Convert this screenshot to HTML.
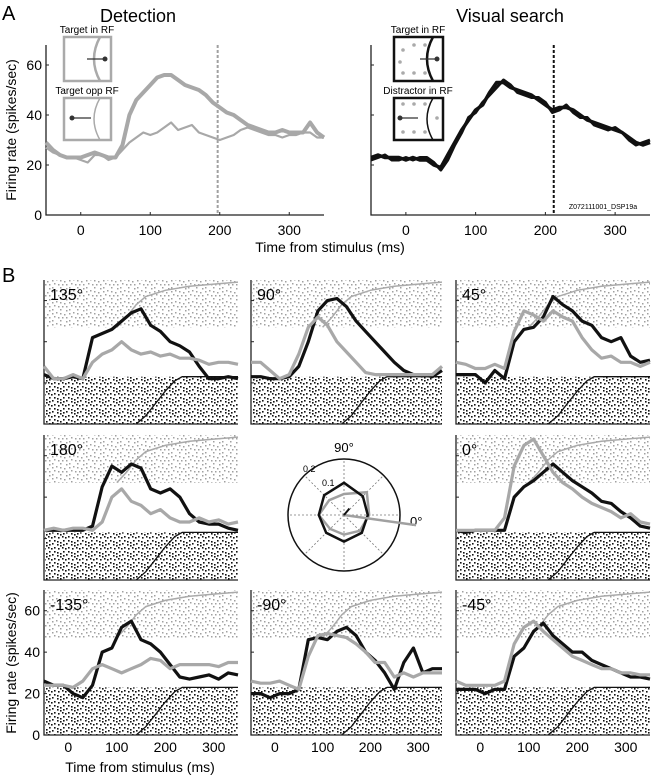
<!DOCTYPE html>
<html><head><meta charset="utf-8">
<style>
html,body{margin:0;padding:0;background:#fff;}
svg{display:block;font-family:"Liberation Sans",Arial,sans-serif;}
</style></head>
<body>
<svg id="fig" width="651" height="776" viewBox="0 0 651 776" xmlns="http://www.w3.org/2000/svg">
<defs>
<pattern id="grayDots" width="17" height="11" patternUnits="userSpaceOnUse">
<g fill="#a0a0a0">
<rect x="1" y="1" width="1.5" height="1.5"/><rect x="5" y="4" width="1.5" height="1.5"/><rect x="9" y="1" width="1.5" height="1.5"/><rect x="13" y="6" width="1.5" height="1.5"/><rect x="15" y="2" width="1.5" height="1.5"/><rect x="3" y="8" width="1.5" height="1.5"/><rect x="7" y="9" width="1.5" height="1.5"/><rect x="11" y="9" width="1.5" height="1.5"/><rect x="15" y="9" width="1.5" height="1.5"/><rect x="9" y="5" width="1.5" height="1.5"/><rect x="1" y="5" width="1.5" height="1.5"/>
</g></pattern>
<pattern id="blackDots" width="14" height="11" patternUnits="userSpaceOnUse">
<g fill="#111">
<rect x="1" y="2" width="1.6" height="1.6"/><rect x="4" y="6" width="1.6" height="1.6"/><rect x="7" y="1" width="1.6" height="1.6"/><rect x="10" y="4" width="1.6" height="1.6"/><rect x="12" y="8" width="1.6" height="1.6"/><rect x="2" y="9" width="1.6" height="1.6"/><rect x="6" y="8" width="1.6" height="1.6"/><rect x="9" y="9" width="1.6" height="1.6"/><rect x="12" y="1" width="1.6" height="1.6"/><rect x="7" y="5" width="1.6" height="1.6"/><rect x="1" y="5" width="1.6" height="1.6"/><rect x="4" y="3" width="1.6" height="1.6"/>
</g></pattern>
</defs>
<text x="2" y="20" font-size="20">A</text>
<text x="2" y="282" font-size="20">B</text>
<text x="138" y="22" font-size="18" text-anchor="middle">Detection</text>
<text x="510" y="22" font-size="18" text-anchor="middle">Visual search</text>
<text x="330" y="252" font-size="14" text-anchor="middle">Time from stimulus (ms)</text>
<text x="140" y="772" font-size="14" text-anchor="middle">Time from stimulus (ms)</text>
<text transform="translate(16,130) rotate(-90)" font-size="14" text-anchor="middle">Firing rate (spikes/sec)</text>
<text transform="translate(16,663) rotate(-90)" font-size="14" text-anchor="middle">Firing rate (spikes/sec)</text>
<text x="603" y="209" font-size="7" text-anchor="middle">Z072111001_DSP19a</text>
<g id="insets">
<text x="87" y="33" font-size="10" text-anchor="middle">Target in RF</text>
<rect x="64" y="37" width="47" height="44" fill="none" stroke="#aaa" stroke-width="2.5"/>
<path d="M100 37 Q88 59 100 81" fill="none" stroke="#aaa" stroke-width="2.5"/>
<line x1="87" y1="59" x2="105" y2="59" stroke="#333" stroke-width="1.3"/><circle cx="105" cy="59" r="2.5" fill="#333"/>
<text x="87" y="94" font-size="10" text-anchor="middle">Target opp RF</text>
<rect x="64" y="98" width="47" height="42" fill="none" stroke="#aaa" stroke-width="2.5"/>
<path d="M100 98 Q88 119 100 140" fill="none" stroke="#aaa" stroke-width="1.5"/>
<line x1="72" y1="118" x2="91" y2="118" stroke="#333" stroke-width="1.3"/><circle cx="72" cy="118" r="2.5" fill="#333"/>
<text x="418" y="33" font-size="10" text-anchor="middle">Target in RF</text>
<rect x="394" y="37" width="49" height="44" fill="none" stroke="#111" stroke-width="2.5"/>
<path d="M433 37 Q421 59 433 81" fill="none" stroke="#111" stroke-width="2.5"/>
<g fill="#aaa"><circle cx="403" cy="50" r="1.8"/><circle cx="400" cy="62" r="1.8"/><circle cx="403" cy="73" r="1.8"/><circle cx="414" cy="45" r="1.8"/><circle cx="414" cy="73" r="1.8"/><circle cx="425" cy="45" r="1.8"/><circle cx="425" cy="73" r="1.8"/></g>
<line x1="420" y1="59" x2="437" y2="59" stroke="#333" stroke-width="1.3"/><circle cx="437" cy="59" r="2.5" fill="#333"/>
<text x="418" y="94" font-size="10" text-anchor="middle">Distractor in RF</text>
<rect x="394" y="98" width="49" height="42" fill="none" stroke="#111" stroke-width="2.5"/>
<path d="M433 98 Q421 119 433 140" fill="none" stroke="#111" stroke-width="1.5"/>
<g fill="#aaa"><circle cx="403" cy="104" r="1.8"/><circle cx="403" cy="132" r="1.8"/><circle cx="414" cy="104" r="1.8"/><circle cx="414" cy="132" r="1.8"/><circle cx="425" cy="104" r="1.8"/><circle cx="425" cy="132" r="1.8"/><circle cx="437" cy="118" r="1.8"/></g>
<line x1="400" y1="118" x2="418" y2="118" stroke="#333" stroke-width="1.3"/><circle cx="400" cy="118" r="2.5" fill="#333"/>
</g>
</svg>
<script>
var times20 = [-50,-30,-10,10,30,50,70,90,110,130,150,170,190,210,230,250,270,290,310,330,350];
var times10 = [-50,-40,-30,-20,-10,0,10,20,30,40,50,60,70,80,90,100,110,120,130,140,150,160,170,180,190,200,210,220,230,240,250,260,270,280,290,300,310,320,330,340,350];
var detTargetIn = [29,26,24,23,23,23,24,25,24,23,23,28,40,46,49,52,55,56,56,54,52,51,50,48,45,43,41,40,38,36,35,34,33,33,34,33,33,33,37,33,31];
var detTargetOpp = [27,25,24,23,23,22,21,24,24,22,23,26,29,31,33,32,33,35,37,34,35,36,33,32,31,30,31,32,34,35,34,33,32,32,31,32,32,33,33,31,31];
var vsTargetIn = [23,24,23,23,23,22,23,22,22,20,19,24,29,34,38,42,44,49,53,53,51,50,49,48,46,44,42,43,43,42,40,38,37,36,35,34,33,31,29,28,29];
var vsDistractorIn = [22,23,24,22,22,23,22,23,23,21,18,22,28,33,39,41,45,48,51,54,52,49,48,47,47,45,41,42,44,41,39,39,36,35,34,35,33,30,28,29,30];
var detDashTime = 197;
var vsDashTime = 212;
var yTicksA = [0,20,40,60];
var xTicks = [0,100,200,300];

var panelLabels = ["135°","90°","45°","180°","0°","-135°","-90°","-45°"];
var blackSeries = [
 [24,22,22,23,22,42,44,46,50,54,56,48,45,40,38,35,28,22,22,23,22],
 [23,23,22,22,23,28,40,55,60,61,57,50,45,40,35,30,26,24,24,23,26],
 [24,24,24,20,26,22,40,46,47,52,62,58,55,50,48,42,40,42,33,30,31],
 [24,24,24,24,24,26,45,55,52,56,54,44,42,44,40,32,28,27,27,25,24],
 [24,23,24,24,24,24,40,45,48,52,56,52,48,45,42,38,37,33,30,26,25],
 [26,24,24,20,18,24,40,42,52,55,46,44,40,34,28,27,28,29,27,30,29],
 [20,20,18,20,20,22,46,47,46,50,52,48,40,36,30,22,35,42,30,32,32],
 [22,22,22,20,22,22,38,42,50,54,48,44,40,40,36,34,32,30,28,28,27]
];
var graySeries = [
 [28,22,22,24,22,30,34,36,40,36,34,35,33,34,32,32,31,29,30,30,29],
 [30,30,26,22,24,34,47,52,48,40,35,30,25,24,24,24,24,24,24,24,28],
 [30,29,27,27,29,27,45,55,53,50,55,52,50,42,36,32,33,30,30,28,30],
 [24,25,24,25,25,24,28,40,44,38,36,32,34,30,28,28,30,28,29,27,28],
 [24,24,24,24,24,30,55,65,68,60,52,47,44,40,37,35,33,30,32,28,27],
 [24,24,24,23,26,32,34,32,30,32,34,37,36,32,34,34,34,34,33,35,35],
 [26,25,25,26,24,22,38,48,49,48,47,44,40,35,35,28,30,28,30,30,30],
 [26,24,24,24,24,26,44,52,55,50,46,42,38,36,34,32,32,30,30,29,29]
];
var sortTimesGray = [100,120,140,160,200,250,300,350];
var sortValsGray = [47,52,58,62,65,67,68,69];
var sortTimesBlack = [140,160,180,200,220,235,350];
var sortValsBlack = [0,4,10,16,21,23,23];
var yTicksB = [0,20,40,60];

var polarAngles = [0,45,90,135,180,-135,-90,-45];
var polarBlack = [0.085,0.095,0.115,0.1,0.09,0.09,0.095,0.09];
var polarGray = [0.09,0.115,0.075,0.075,0.09,0.07,0.07,0.08];
var vecGray = [-8,0.26];
var vecBlack = [50,0.03];

var NS = "http://www.w3.org/2000/svg";
var svg = document.getElementById('fig');
function mk(tag, parent){var e=document.createElementNS(NS,tag);(parent||svg).appendChild(e);return e;}
function set(e,o){for(var k in o)e.setAttribute(k,o[k]);return e;}
function scale(d0,d1,r0,r1){return function(v){return r0+(v-d0)*(r1-r0)/(d1-d0);};}
function pathFrom(ts,vs,sx,sy){var d="";for(var i=0;i<ts.length;i++){d+=(i?"L":"M")+sx(ts[i]).toFixed(1)+" "+sy(vs[i]).toFixed(1);}return d;}

function axes(g,x0,x1,y0,y1,sy,ticks,labels,name){
  var ax=mk('path',g);
  set(ax,{d:"M"+x0+" "+y1+"V"+y0+"H"+x1,fill:"none",stroke:"#222","stroke-width":1.3});
  
  
  ticks.forEach(function(t){
    var tk=mk('line',g);
    set(tk,{x1:x0,x2:x0+3,y1:sy(t),y2:sy(t),stroke:"#222","stroke-width":1});
    
    
    if(labels){
      var tl=mk('text',g);
      set(tl,{x:x0-4,y:sy(t)+5,"font-size":14,"text-anchor":"end"});
      tl.textContent=t;
      
      
    }
  });
}

function panelA(x0,x1,name,series,colors,widths,dashT,dashColor){
  var g=mk('g');
  
  
  var sx=scale(-50,350,x0,x1), sy=scale(0,68,215,45);
  axes(g,x0,x1,215,45,sy,yTicksA,x0<100,name);
  xTicks.forEach(function(t){
    var tl=mk('text',g);
    set(tl,{x:sx(t),y:235,"font-size":14,"text-anchor":"middle"});
    tl.textContent=t;
    
    
    var tk=mk('line',g);
    set(tk,{x1:sx(t),x2:sx(t),y1:215,y2:212,stroke:"#222"});
    
    
  });
  var dl=mk('line',g);
  set(dl,{x1:sx(dashT),x2:sx(dashT),y1:45,y2:215,stroke:dashColor,"stroke-width":2,"stroke-dasharray":"3,2"});
  
  
  series.forEach(function(s,i){
    var p=mk('path',g);
    set(p,{d:pathFrom(times10,s,sx,sy),fill:"none",stroke:colors[i],"stroke-width":widths[i],"stroke-linejoin":"round"});
    
    
  });
}
panelA(46,324,'detection-panel',[detTargetIn,detTargetOpp],["#a8a8a8","#a8a8a8"],[4,2.2],detDashTime,"#a0a0a0");
panelA(371,650,'visual-search-panel',[vsTargetIn,vsDistractorIn],["#111","#111"],[3.5,3],vsDashTime,"#111");

var cols=[[44,238],[251,442],[456,650]];
var rows=[[280,424],[435,580],[590,735]];
var cells=[[0,0],[0,1],[0,2],[1,0],[1,2],[2,0],[2,1],[2,2]];
cells.forEach(function(c,i){
  var x0=cols[c[1]][0],x1=cols[c[1]][1],top=rows[c[0]][0],bot=rows[c[0]][1];
  var name='direction-panel-'+panelLabels[i].replace('°','').replace('-','minus');
  var g=mk('g');
  
  
  var sx=scale(-50,350,x0,x1), sy=scale(0,70,bot,top);
  var gr=mk('rect',g);
  set(gr,{x:x0+1,y:top,width:x1-x0-1,height:sy(47)-top,fill:"url(#grayDots)"});
  
  
  var br=mk('rect',g);
  set(br,{x:x0+1,y:sy(23),width:x1-x0-1,height:bot-sy(23),fill:"url(#blackDots)"});
  
  
  var sg=mk('path',g);
  set(sg,{d:pathFrom(sortTimesGray,sortValsGray,sx,sy),fill:"none",stroke:"#aaa","stroke-width":1.5});
  
  
  var sb=mk('path',g);
  set(sb,{d:pathFrom(sortTimesBlack,sortValsBlack,sx,sy),fill:"none",stroke:"#111","stroke-width":1.3});
  
  
  axes(g,x0,x1,bot,top,sy,yTicksB,c[1]===0&&c[0]===2,name);
  var pb=mk('path',g);
  set(pb,{d:pathFrom(times20,blackSeries[i],sx,sy),fill:"none",stroke:"#111","stroke-width":3.2,"stroke-linejoin":"round"});
  
  
  var pg=mk('path',g);
  set(pg,{d:pathFrom(times20,graySeries[i],sx,sy),fill:"none",stroke:"#a8a8a8","stroke-width":3.2,"stroke-linejoin":"round"});
  
  
  var lb=mk('text',g);
  set(lb,{x:x0+6,y:top+20,"font-size":16});
  lb.textContent=panelLabels[i];
  
  
  if(c[0]===2){
    xTicks.forEach(function(t){
      var tl=mk('text',g);
      set(tl,{x:sx(t),y:752,"font-size":14,"text-anchor":"middle"});
      tl.textContent=t;
      
      
    });
  }
});

(function(){
  var cx=344,cy=515,R=56,rmax=0.2;
  var g=mk('g');
  
  
  function pt(a,r){var t=a*Math.PI/180;return [cx+Math.cos(t)*r/rmax*R, cy-Math.sin(t)*r/rmax*R];}
  polarAngles.forEach(function(a){
    var p=pt(a,rmax),l=mk('line',g);
    set(l,{x1:cx,y1:cy,x2:p[0],y2:p[1],stroke:"#777","stroke-width":0.8,"stroke-dasharray":"2,2"});
    
    
  });
  var c=mk('circle',g);
  set(c,{cx:cx,cy:cy,r:R,fill:"none",stroke:"#111","stroke-width":1.5});
  
  
  [["0.2",303,472],["0.1",322,486]].forEach(function(t){
    var e=mk('text',g);set(e,{x:t[1],y:t[2],"font-size":9});e.textContent=t[0];
    
    
  });
  var l90=mk('text',g);set(l90,{x:cx,y:452,"font-size":13,"text-anchor":"middle"});l90.textContent="90°";
  
  
  var l0=mk('text',g);set(l0,{x:410,y:526,"font-size":13});l0.textContent="0°";
  
  
  function poly(vals,col,name){
    var pts=[];
    for(var i=0;i<polarAngles.length;i++){pts.push(pt(polarAngles[i],vals[i]).map(function(v){return v.toFixed(1);}).join(","));}
    var p=mk('polygon',g);set(p,{points:pts.join(" "),fill:"none",stroke:col,"stroke-width":2.5});
    
    
  }
  poly(polarGray,"#a0a0a0",'polar-detection-polygon');
  poly(polarBlack,"#111",'polar-search-polygon');
  var vg=pt(vecGray[0],vecGray[1]),vl=mk('line',g);
  set(vl,{x1:cx,y1:cy,x2:vg[0],y2:vg[1],stroke:"#a0a0a0","stroke-width":2.5});
  
  
  var vb=pt(vecBlack[0],vecBlack[1]),bl=mk('line',g);
  set(bl,{x1:cx,y1:cy,x2:vb[0],y2:vb[1],stroke:"#111","stroke-width":2});
  
  
})();
</script>
</body></html>
